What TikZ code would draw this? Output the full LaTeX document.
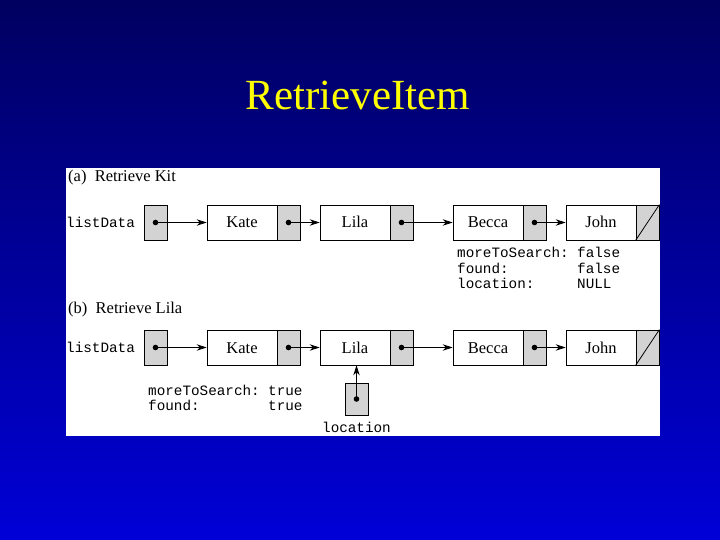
\documentclass[tikz,border=0pt]{standalone}
\usepackage{fontspec}
\setmainfont{Liberation Serif}
\setmonofont{Liberation Mono}
\usetikzlibrary{arrows.meta}
\definecolor{bgtop}{RGB}{0,0,96}
\definecolor{bgbot}{RGB}{0,0,215}
\definecolor{titleyellow}{RGB}{255,255,0}
\definecolor{ptrgray}{RGB}{211,211,211}
\tikzset{
  datapart/.style={draw=black, line width=0.8pt, fill=white, minimum width=70, minimum height=35, inner sep=0pt, text height=12.5, text depth=1.5, font=\fontsize{16.5}{19}\selectfont},
  ptrpart/.style={draw=black, line width=0.8pt, fill=ptrgray, minimum width=23, minimum height=35, inner sep=0pt},
  ptrarrow/.style={line width=0.8pt, -{Stealth[length=10pt,width=6.5pt]}},
  monotext/.style={font=\ttfamily\fontsize{14.3}{15.4}\selectfont, inner sep=0pt, anchor=base west},
  captext/.style={font=\fontsize{16.5}{19}\selectfont, inner sep=0pt, anchor=base west},
}
\newcommand{\ptrdot}[1]{\fill (#1) circle (2.8);}
\begin{document}
\begin{tikzpicture}[x=1pt, y=-1pt]
\useasboundingbox (0,0) rectangle (720,540);
\shade[top color=bgtop, bottom color=bgbot] (0,0) rectangle (720,540);
\node[font=\fontsize{43}{50}\selectfont, text=titleyellow, inner sep=0pt, anchor=base] (title) at (358,110) {RetrieveItem};
\fill[white] (66,168) rectangle (660,436);

% (a)
\node[captext] (capa) at (68,182) {(a)\ \ Retrieve Kit};
\node[monotext] (alist) at (66,227) {listData};
\node[ptrpart] (ahead) at (155.5,222.5) {};
\node[datapart] (akate) at (242,222.5) {Kate};
\node[ptrpart] (akatep) at (288.5,222.5) {};
\node[datapart] (alila) at (355,222.5) {Lila};
\node[ptrpart] (alilap) at (401.5,222.5) {};
\node[datapart] (abecca) at (488,222.5) {Becca};
\node[ptrpart] (abeccap) at (534.5,222.5) {};
\node[datapart] (ajohn) at (601,222.5) {John};
\node[ptrpart] (ajohnp) at (647.5,222.5) {};
\draw[line width=0.8pt] (ajohnp.south west) -- (ajohnp.north east);
\foreach \a/\b in {ahead/akate, akatep/alila, alilap/abecca, abeccap/ajohn}{
  \draw[ptrarrow] (\a.center) -- (\b.west);
  \ptrdot{\a.center}
}
\node[monotext] (am1) at (457,258) {moreToSearch:};
\node[monotext] (am2) at (577,258) {false};
\node[monotext] (af1) at (457,273.3) {found:};
\node[monotext] (af2) at (577,273.3) {false};
\node[monotext] (al1) at (457,288.6) {location:};
\node[monotext] (al2) at (577,288.6) {NULL};

% (b)
\node[captext] (capb) at (68,313) {(b)\ \ Retrieve Lila};
\node[monotext] (blist) at (66,352) {listData};
\node[ptrpart] (bhead) at (155.5,347.5) {};
\node[datapart] (bkate) at (242,347.5) {Kate};
\node[ptrpart] (bkatep) at (288.5,347.5) {};
\node[datapart] (blila) at (355,347.5) {Lila};
\node[ptrpart] (blilap) at (401.5,347.5) {};
\node[datapart] (bbecca) at (488,347.5) {Becca};
\node[ptrpart] (bbeccap) at (534.5,347.5) {};
\node[datapart] (bjohn) at (601,347.5) {John};
\node[ptrpart] (bjohnp) at (647.5,347.5) {};
\draw[line width=0.8pt] (bjohnp.south west) -- (bjohnp.north east);
\foreach \a/\b in {bhead/bkate, bkatep/blila, blilap/bbecca, bbeccap/bjohn}{
  \draw[ptrarrow] (\a.center) -- (\b.west);
  \ptrdot{\a.center}
}
\node[monotext] (bm1) at (148,395) {moreToSearch:};
\node[monotext] (bm2) at (268,395) {true};
\node[monotext] (bf1) at (148,410.3) {found:};
\node[monotext] (bf2) at (268,410.3) {true};
\node[ptrpart, minimum height=32] (bloc) at (356.5,399) {};
\draw[ptrarrow] (bloc.center) -- (bloc.center |- blila.south);
\ptrdot{bloc.center}
\node[font=\ttfamily\fontsize{14.3}{15.4}\selectfont, inner sep=0pt, anchor=base] (bloclab) at (356.5,432) {location};
\end{tikzpicture}
\end{document}
